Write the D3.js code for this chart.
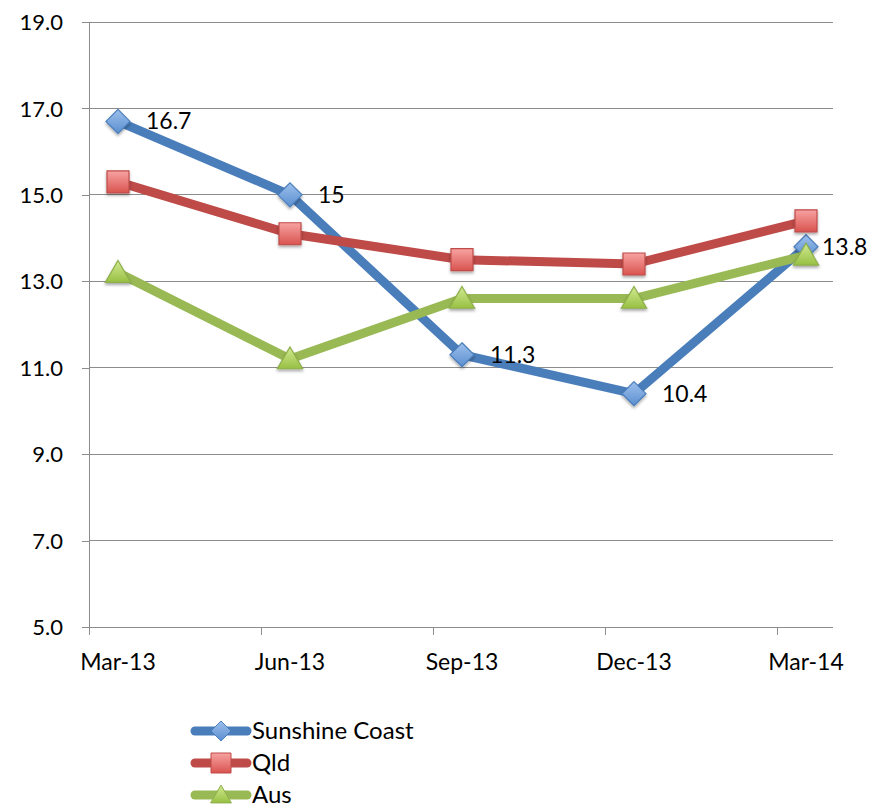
<!DOCTYPE html>
<html>
<head>
<meta charset="utf-8">
<script src="https://cdn.jsdelivr.net/npm/d3@7"></script>
<style>
  body { margin: 0; background: #fff; }
  text { font-family: Lato, "Open Sans", "Liberation Sans", sans-serif; fill: #000; }
</style>
</head>
<body>
<svg id="chart" width="871" height="804"></svg>
<script>
// Quarterly values for each region
const categories = ["Mar-13", "Jun-13", "Sep-13", "Dec-13", "Mar-14"];
const sunshineCoast = [16.7, 15, 11.3, 10.4, 13.8];
const qld = [15.3, 14.1, 13.5, 13.4, 14.4];
const aus = [13.2, 11.2, 12.6, 12.6, 13.6];
const yTicks = [5, 7, 9, 11, 13, 15, 17, 19];
const seriesNames = ["Sunshine Coast", "Qld", "Aus"];

const series = [
  { name: seriesNames[0], values: sunshineCoast, line: "#4A7EBB", fillTop: "#9DC0EC", fillBot: "#5B8FD0", stroke: "#4A7EBB", shape: "diamond" },
  { name: seriesNames[1], values: qld, line: "#BE4B48", fillTop: "#F7A3A2", fillBot: "#D9534F", stroke: "#BE4B48", shape: "square" },
  { name: seriesNames[2], values: aus, line: "#98B954", fillTop: "#D2EA93", fillBot: "#98C043", stroke: "#8DAF4A", shape: "triangle" }
];

const svg = d3.select("#chart");
const plot = { left: 89, right: 833, top: 22, bottom: 627 };
const step = 172;
const offset = 29;

const x = d3.scalePoint().domain(categories)
  .range([plot.left + offset, plot.left + offset + step * (categories.length - 1)]);
const y = d3.scaleLinear().domain([5, 19]).range([plot.bottom, plot.top]);

// Gradients and drop shadow for markers
const defs = svg.append("defs");
series.forEach((s, i) => {
  const g = defs.append("linearGradient").attr("id", "grad" + i)
    .attr("x1", 0).attr("y1", 0).attr("x2", 0).attr("y2", 1);
  g.append("stop").attr("offset", "0%").attr("stop-color", s.fillTop);
  g.append("stop").attr("offset", "100%").attr("stop-color", s.fillBot);
});
const shadow = defs.append("filter").attr("id", "shadow")
  .attr("x", "-50%").attr("y", "-50%").attr("width", "200%").attr("height", "200%");
shadow.append("feDropShadow").attr("dx", 0).attr("dy", 2).attr("stdDeviation", 1.5)
  .attr("flood-color", "#000").attr("flood-opacity", 0.35);

// Horizontal gridlines
svg.append("g").selectAll("line").data(yTicks).join("line")
  .attr("x1", plot.left).attr("x2", plot.right)
  .attr("y1", d => y(d)).attr("y2", d => y(d))
  .attr("stroke", "#8c8c8c").attr("stroke-width", 1).attr("shape-rendering", "crispEdges");

// Y axis
const yAxis = svg.append("g").attr("transform", `translate(${plot.left},0)`)
  .call(d3.axisLeft(y).tickValues(yTicks).tickFormat(d3.format(".1f")).tickSize(7).tickPadding(19));
yAxis.select(".domain").attr("stroke", "#8c8c8c").attr("shape-rendering", "crispEdges");
yAxis.selectAll(".tick line").attr("stroke", "#8c8c8c").attr("shape-rendering", "crispEdges");
yAxis.selectAll("text").style("font-size", "22px").attr("fill", "#000").attr("dy", "0.35em");

// X axis: tick marks sit between the category points
const xAxisG = svg.append("g");
xAxisG.append("line").attr("x1", plot.left).attr("x2", plot.right)
  .attr("y1", plot.bottom).attr("y2", plot.bottom)
  .attr("stroke", "#8c8c8c").attr("shape-rendering", "crispEdges");
xAxisG.selectAll("line.tick").data(categories).join("line").attr("class", "tick")
  .attr("x1", d => x(d) - offset).attr("x2", d => x(d) - offset)
  .attr("y1", plot.bottom).attr("y2", plot.bottom + 8)
  .attr("stroke", "#8c8c8c").attr("shape-rendering", "crispEdges");
xAxisG.selectAll("text").data(categories).join("text")
  .attr("x", d => x(d)).attr("y", plot.bottom + 43)
  .attr("text-anchor", "middle").style("font-size", "23px").text(d => d);

// Marker shapes
function markerPath(shape, size) {
  const h = size / 2;
  if (shape === "diamond") return `M0,${-h}L${h},0L0,${h}L${-h},0Z`;
  if (shape === "square") return `M${-h},${-h}H${h}V${h}H${-h}Z`;
  const t = size * 0.55;
  return `M0,${-t}L${t * 1.05},${t * 0.8}L${-t * 1.05},${t * 0.8}Z`;
}
const markerSize = { diamond: 24, square: 22, triangle: 22 };

const lineGen = d3.line().x((d, i) => x(categories[i])).y(d => y(d));

series.forEach((s, i) => {
  const g = svg.append("g");
  g.append("path").datum(s.values).attr("d", lineGen)
    .attr("fill", "none").attr("stroke", s.line).attr("stroke-width", 9)
    .attr("stroke-linejoin", "round").attr("stroke-linecap", "round");
  g.selectAll("path.marker").data(s.values).join("path").attr("class", "marker")
    .attr("transform", (d, j) => `translate(${x(categories[j])},${y(d)})`)
    .attr("d", markerPath(s.shape, markerSize[s.shape]))
    .attr("fill", `url(#grad${i})`).attr("stroke", s.stroke).attr("stroke-width", 1.2)
    .attr("filter", "url(#shadow)");
});

// Value labels for Sunshine Coast
const sc = series[0];
svg.append("g").selectAll("text").data(sc.values).join("text")
  .attr("x", (d, j) => x(categories[j]) + (j === categories.length - 1 ? 16 : 28))
  .attr("y", d => y(d) + 8)
  .style("font-size", "23px")
  .text(d => String(d));

// Legend
const legend = svg.append("g");
series.forEach((s, i) => {
  const ly = 731 + i * 32;
  const g = legend.append("g");
  g.append("line").attr("x1", 195).attr("x2", 247).attr("y1", ly).attr("y2", ly)
    .attr("stroke", s.line).attr("stroke-width", 9).attr("stroke-linecap", "round");
  g.append("path").attr("transform", `translate(221,${ly})`)
    .attr("d", markerPath(s.shape, s.shape === "triangle" ? 18 : 20))
    .attr("fill", `url(#grad${i})`).attr("stroke", s.stroke).attr("stroke-width", 1);
  g.append("text").attr("x", 252).attr("y", ly + 8).style("font-size", "24px").text(s.name);
});
</script>
</body>
</html>
